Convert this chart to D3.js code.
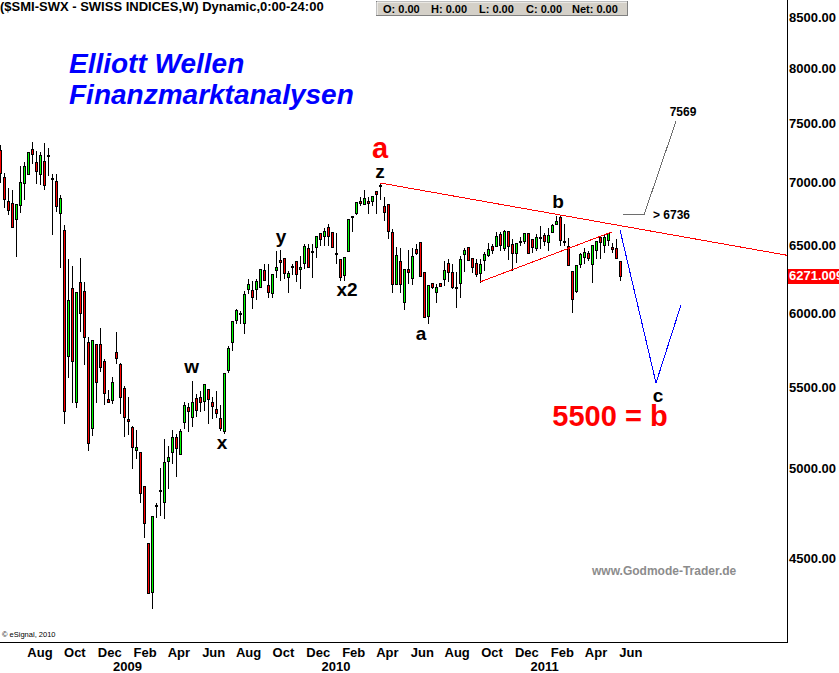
<!DOCTYPE html>
<html><head><meta charset="utf-8">
<script src="https://cdn.jsdelivr.net/npm/d3@7"></script>
<style>body{margin:0;background:#fff}svg{display:block}text{font-family:"Liberation Sans",Arial,sans-serif}</style>
</head><body><svg id="c" width="839" height="673"></svg>
<script>
// ---------- DATA ----------
const firstWeek = "2008-05-23"; // weekly bars, one per week
const open = [7270,7043,6847,6831,6704,6815,6994,7068,7279,7168,7068,7177,7228,7035,7010,6751,6618,5707,6182,5407,
6225,6160,5801,5245,5788,5788,5673,5426,5420,5734,5654,5497,5300,5251,5110,5098,4898,4581,4326,4791,
4873,4808,5045,5098,5189,5086,5282,5376,5312,5432,5439,5414,5490,5407,5363,5306,5226,5614,5801,5954,
5993,5933,6175,6167,6175,6189,6314,6204,6146,6314,6385,6404,6262,6347,6381,6321,6366,6479,6460,6487,
6595,6571,6641,6603,6445,6396,6277,6457,6720,6751,6847,6823,6847,6847,6928,6969,6807,6823,6603,6211,
6381,6081,6321,6255,6472,6525,6299,5982,6218,6153,6218,6247,6366,6299,6189,6218,6433,6487,6404,6366,
6292,6389,6426,6495,6495,6587,6479,6610,6510,6441,6529,6533,6595,6548,6479,6560,6579,6525,6603,6665,
6720,6529,6495,6307,6160,6359,6411,6441,6359,6464,6564,6502,6540,6487,6479,6381];
const high = [7321,7085,6961,6944,6831,7143,7177,7262,7347,7270,7262,7339,7296,7076,7076,6904,6665,6404,6351,6153,
6411,6233,5843,5815,5788,5905,5694,5490,5574,5877,5667,5516,5445,5263,5238,5098,4898,4581,4735,4808,
5010,5183,5140,5238,5214,5245,5414,5407,5548,5464,5484,5529,5490,5445,5484,5395,5601,5781,5947,6038,
6024,6167,6255,6240,6255,6321,6366,6366,6284,6464,6472,6404,6314,6366,6381,6426,6518,6518,6518,6571,
6603,6641,6673,6603,6603,6396,6411,6704,6727,6839,6888,6944,6888,6896,6936,6994,6888,6831,6634,6495,
6487,6321,6472,6487,6518,6533,6299,6204,6218,6218,6218,6389,6404,6366,6307,6426,6487,6495,6411,6404,
6404,6457,6525,6518,6610,6610,6626,6618,6556,6518,6571,6603,6595,6548,6595,6657,6603,6641,6673,6735,
6736,6673,6564,6314,6359,6449,6487,6464,6502,6540,6579,6595,6603,6525,6556,6381];
const low = [7002,6799,6743,6641,6418,6759,6863,7068,7160,6994,6985,6944,7060,6587,6767,6336,5275,5568,5407,5376,
5877,5654,5110,5201,5407,5607,5395,5407,5401,5660,5337,5195,5207,5004,5063,4808,4614,4321,4244,4724,
4735,4718,4887,5033,4956,5086,5245,5226,5257,5319,5350,5356,5275,5306,5312,5232,5214,5601,5747,5933,
5933,5863,6146,6038,6102,6189,6240,6117,6117,6262,6240,6255,6153,6284,6233,6182,6329,6336,6262,6411,
6502,6502,6502,6487,6366,6240,6240,6457,6610,6743,6815,6823,6751,6815,6751,6863,6696,6556,6153,6211,
6153,6031,6218,6211,6433,6270,5975,5933,6182,6081,6196,6204,6233,6182,6045,6117,6307,6389,6299,6270,
6226,6314,6418,6441,6495,6464,6464,6396,6314,6374,6502,6518,6441,6449,6464,6479,6502,6464,6603,6665,
6502,6502,6351,6010,6153,6336,6366,6389,6226,6404,6404,6449,6502,6449,6404,6240];
const close = [7076,6863,6775,6641,6823,7002,7135,7253,7236,7093,7228,6977,7219,7027,6807,6871,5350,6095,5673,6153,
6003,5836,5153,5815,5535,5634,5464,5407,5535,5694,5439,5312,5288,5128,5128,4859,4690,4321,4729,4785,
4868,5039,5068,5189,5122,5226,5388,5350,5407,5356,5407,5522,5426,5382,5337,5245,5594,5761,5947,6024,
6000,6138,6211,6117,6233,6321,6240,6153,6284,6336,6377,6292,6292,6340,6284,6336,6495,6336,6452,6571,
6548,6610,6571,6487,6441,6262,6411,6704,6727,6839,6831,6871,6831,6888,6904,6977,6759,6610,6211,6426,
6211,6321,6299,6418,6441,6270,5975,6204,6189,6189,6196,6314,6299,6189,6182,6396,6464,6389,6336,6284,
6359,6433,6472,6464,6571,6502,6610,6495,6441,6518,6533,6595,6441,6487,6564,6564,6533,6579,6657,6688,
6540,6525,6351,6102,6351,6433,6449,6404,6502,6533,6525,6564,6595,6472,6404,6271.009];

const priceTicks = [8500,8000,7500,7000,6500,6000,5500,5000,4500];
const monthTicks = ["2008-08","2008-10","2008-12","2009-02","2009-04","2009-06","2009-08","2009-10","2009-12",
"2010-02","2010-04","2010-06","2010-08","2010-10","2010-12","2011-02","2011-04","2011-06"];
const yearTicks = ["2009","2010","2011"];

// trend / projection lines: [week index, price]
const upperTrend = [[95, 6994],[140, 6736]];
const lowerTrend = [[120, 6226],[153, 6603]];
const projection = [[155, 6618],[164, 5529],[170.25, 6060]];
const targetLine = [[155.8, 6736],[161, 6736],[169, 7520]];

// wave labels: [text, week index, price]
const waveLabels = [["z",95,7035],["y",70.25,6518],["x2",86.75,6124],["w",47.9,5594],["x",55.5,5116],
["a",105.25,5815],["b",139.5,6791],["c",164.5,5407]];
const bigLabels = [["a",95,7200],["5500 = b",152.5,5257]];
const noteLabels = [["7569",170.75,7569],["> 6736",163.25,6736]];

// ---------- LAYOUT ----------
const W = 787, H = 642;
const svg = d3.select("#c");
const d0 = d3.timeParse("%Y-%m-%d")(firstWeek);
const dEnd = d3.timeDay.offset(d0, 7*197);
const x = d3.scaleTime().domain([d0, dEnd]).range([0, 197*4]);
const y = d3.scaleLog().domain([4500, 8500]).range([558.2, 17]);
const wDate = i => new Date(+d0 + i*7*86400000);
const xi = i => x(wDate(i));

svg.append("defs").append("clipPath").attr("id","plot")
  .append("rect").attr("x",0).attr("y",0).attr("width",W).attr("height",H);
const plot = svg.append("g").attr("clip-path","url(#plot)");

// candles
const bars = open.map((o,i)=>({o, h:high[i], l:low[i], c:close[i], d:d3.timeDay.offset(d0, 7*i)}));
const px = d => Math.round(x(d)) + 0.5;
const py = v => Math.round(y(v)) + 0.5;
const cg = plot.append("g").attr("shape-rendering","crispEdges");
cg.selectAll("line.w").data(bars).join("line").attr("class","w")
  .attr("x1",d=>px(d.d)).attr("x2",d=>px(d.d))
  .attr("y1",d=>py(d.h)).attr("y2",d=>py(d.l)).attr("stroke","#000");
bars.forEach(d=>{
  const top = py(Math.max(d.o,d.c)), bot = py(Math.min(d.o,d.c)), cx = px(d.d);
  if (bot - top < 1) {
    cg.append("line").attr("x1",cx-1.5).attr("x2",cx+1.5).attr("y1",top).attr("y2",top)
      .attr("stroke","#000").attr("stroke-width",2);
  } else {
    cg.append("rect").attr("x",cx-1).attr("y",top).attr("width",2).attr("height",bot-top)
      .attr("fill", d.c >= d.o ? "#00ff00" : "#ff0000").attr("stroke","#000");
  }
});

// trend lines
const P = ([i,p]) => [xi(i), y(p)];
const lg = plot.append("g").attr("fill","none").attr("shape-rendering","crispEdges");
{
  const [a,b] = upperTrend.map(P);
  const s = (b[1]-a[1])/(b[0]-a[0]);
  lg.append("line").attr("x1",a[0]).attr("y1",a[1]).attr("x2",W).attr("y2",a[1]+s*(W-a[0]))
    .attr("stroke","#ff0000");
}
lg.append("path").attr("d", d3.line()(lowerTrend.map(P))).attr("stroke","#ff0000");
lg.append("path").attr("d", d3.line()(projection.map(P))).attr("stroke","#0000ff");
lg.append("path").attr("d", d3.line()(targetLine.map(P))).attr("stroke","#6e6e6e");

// labels
const tg = svg.append("g");
waveLabels.forEach(([t,i,p])=>{
  tg.append("text").attr("x",xi(i)).attr("y",y(p)).attr("text-anchor","middle")
    .attr("font-size",19).attr("font-weight","bold").attr("fill","#000").text(t);
});
bigLabels.forEach(([t,i,p])=>{
  tg.append("text").attr("x",xi(i)).attr("y",y(p)).attr("text-anchor","middle")
    .attr("font-size",29).attr("font-weight","bold").attr("fill","#ff0000").text(t);
});
tg.append("text").attr("x",xi(noteLabels[0][1])).attr("y",y(noteLabels[0][2])).attr("text-anchor","middle")
  .attr("font-size",12).attr("font-weight","bold").text(noteLabels[0][0]);
tg.append("text").attr("x",xi(noteLabels[1][1])).attr("y",y(noteLabels[1][2])).attr("dy","0.35em")
  .attr("font-size",12).attr("font-weight","bold").text(noteLabels[1][0]);

// frame
svg.append("path").attr("d",`M0,${H+0.5}H${W+0.5}V0`).attr("fill","none").attr("stroke","#000")
  .attr("shape-rendering","crispEdges");

// right axis labels
const ax = svg.append("g").attr("font-size",13).attr("font-weight","bold");
priceTicks.forEach(v=>{
  ax.append("text").attr("x",789).attr("y",y(v)).attr("dy","0.36em").text(d3.format(".2f")(v));
});
const last = close[close.length-1];
svg.append("rect").attr("x",788).attr("y",Math.round(y(last))-7).attr("width",51).attr("height",15).attr("fill","#ff0000");
svg.append("text").attr("x",789).attr("y",y(last)).attr("dy","0.36em").attr("font-size",13).attr("font-weight","bold")
  .attr("fill","#fff").text(d3.format(".3f")(last));

// bottom axis
const mParse = d3.timeParse("%Y-%m");
const bx = svg.append("g").attr("font-weight","bold").attr("text-anchor","middle").attr("font-size",13);
monthTicks.forEach(m=>{
  const d = mParse(m);
  bx.append("text").attr("x",x(d)).attr("y",657).text(d3.timeFormat("%b")(d));
});
yearTicks.forEach(yr=>{
  const d = d3.timeParse("%Y")(yr);
  bx.append("text").attr("x",x(d)).attr("y",670.5).text(yr);
});

// header
svg.append("text").attr("x",0).attr("y",11).attr("font-size",13).attr("font-weight","bold").attr("fill","#000")
  .text("($SMI-SWX - SWISS INDICES,W) Dynamic,0:00-24:00");
const hb = svg.append("g");
hb.append("rect").attr("x",376.5).attr("y",1.5).attr("width",251).attr("height",14).attr("fill","#d4d0c8")
  .attr("stroke","#808080");
hb.append("path").attr("d","M377,15V2H627").attr("stroke","#fff").attr("fill","none");
const hbt = [["O: 0.00",383],["H: 0.00",431],["L: 0.00",479],["C: 0.00",526],["Net: 0.00",572]];
hbt.forEach(([t,xx])=>hb.append("text").attr("x",xx).attr("y",13).attr("font-size",11).attr("font-weight","bold").text(t));

// blue title
const bt = svg.append("g").attr("fill","#0000ff").attr("font-size",28).attr("font-weight","bold").attr("font-style","italic");
bt.append("text").attr("x",69).attr("y",73).text("Elliott Wellen");
bt.append("text").attr("x",69).attr("y",104).text("Finanzmarktanalysen");

// watermark and copyright
svg.append("text").attr("x",592).attr("y",575).attr("font-size",12).attr("font-weight","bold").attr("fill","#8c8c8c")
  .text("www.Godmode-Trader.de");
svg.append("text").attr("x",2).attr("y",637).attr("font-size",7.5).attr("fill","#000").text("© eSignal, 2010");
</script></body></html>
